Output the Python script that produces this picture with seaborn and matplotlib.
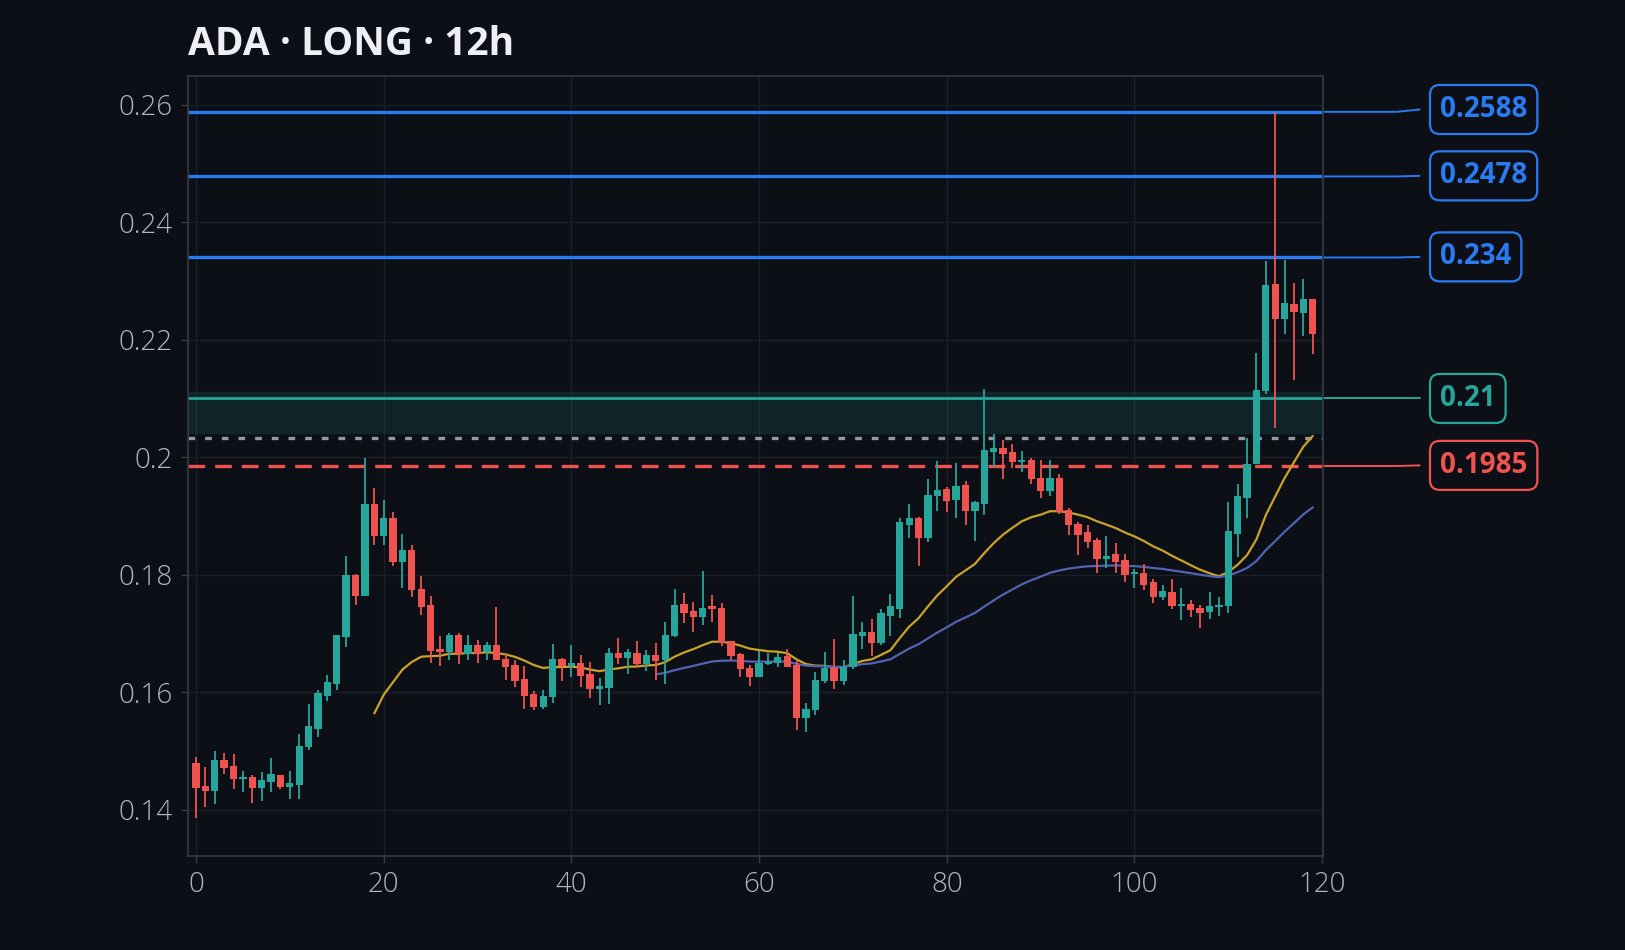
import numpy as np
import pandas as pd
import matplotlib
matplotlib.use("Agg")
import matplotlib.pyplot as plt
import matplotlib.transforms as mtransforms
import seaborn as sns

# OHLC data (12h candles)
opens = [0.1479, 0.1440, 0.1432, 0.1485, 0.1474, 0.1452, 0.1455, 0.1437, 0.1447, 0.1459,
         0.1439, 0.1442, 0.1507, 0.1538, 0.1594, 0.1614, 0.1694, 0.1799, 0.1764, 0.1921,
         0.1866, 0.1896, 0.1822, 0.1842, 0.1775, 0.1748, 0.1673, 0.1669, 0.1697, 0.1665,
         0.1680, 0.1669, 0.1680, 0.1657, 0.1646, 0.1622, 0.1597, 0.1574, 0.1591, 0.1656,
         0.1644, 0.1650, 0.1630, 0.1605, 0.1607, 0.1667, 0.1658, 0.1667, 0.1647, 0.1663,
         0.1654, 0.1696, 0.1750, 0.1738, 0.1728, 0.1746, 0.1743, 0.1687, 0.1665, 0.1641,
         0.1625, 0.1647, 0.1649, 0.1662, 0.1646, 0.1556, 0.1570, 0.1619, 0.1641, 0.1619,
         0.1642, 0.1696, 0.1703, 0.1683, 0.1730, 0.1741, 0.1885, 0.1896, 0.1863, 0.1934,
         0.1946, 0.1927, 0.1952, 0.1909, 0.1920, 0.2009, 0.2015, 0.2009, 0.1992, 0.1995,
         0.1965, 0.1943, 0.1965, 0.1910, 0.1887, 0.1872, 0.1859, 0.1826, 0.1835, 0.1825,
         0.1801, 0.1803, 0.1788, 0.1762, 0.1770, 0.1747, 0.1750, 0.1743, 0.1736, 0.1745,
         0.1747, 0.1869, 0.1931, 0.1989, 0.2113, 0.2294, 0.2235, 0.2260, 0.2246, 0.2270]
highs = [0.1490, 0.1473, 0.1499, 0.1497, 0.1494, 0.1466, 0.1458, 0.1464, 0.1488, 0.1459,
         0.1466, 0.1529, 0.1580, 0.1603, 0.1629, 0.1698, 0.1831, 0.1801, 0.1999, 0.1948,
         0.1927, 0.1907, 0.1870, 0.1850, 0.1797, 0.1763, 0.1695, 0.1701, 0.1701, 0.1697,
         0.1689, 0.1685, 0.1745, 0.1665, 0.1654, 0.1644, 0.1602, 0.1603, 0.1682, 0.1658,
         0.1680, 0.1664, 0.1652, 0.1624, 0.1675, 0.1692, 0.1673, 0.1687, 0.1671, 0.1684,
         0.1719, 0.1775, 0.1769, 0.1753, 0.1807, 0.1765, 0.1752, 0.1687, 0.1667, 0.1646,
         0.1670, 0.1667, 0.1666, 0.1674, 0.1654, 0.1582, 0.1635, 0.1669, 0.1690, 0.1654,
         0.1763, 0.1719, 0.1725, 0.1741, 0.1767, 0.1896, 0.1920, 0.1898, 0.1963, 0.1993,
         0.1950, 0.1990, 0.1959, 0.1925, 0.2116, 0.2039, 0.2030, 0.2022, 0.2011, 0.1998,
         0.1995, 0.1995, 0.1971, 0.1914, 0.1890, 0.1884, 0.1863, 0.1866, 0.1854, 0.1835,
         0.1810, 0.1818, 0.1792, 0.1782, 0.1792, 0.1778, 0.1756, 0.1748, 0.1770, 0.1762,
         0.1923, 0.1954, 0.2032, 0.2178, 0.2334, 0.2588, 0.2336, 0.2296, 0.2304, 0.2270]
lows = [0.1386, 0.1405, 0.1410, 0.1460, 0.1435, 0.1430, 0.1412, 0.1415, 0.1430, 0.1435,
        0.1418, 0.1418, 0.1501, 0.1524, 0.1585, 0.1603, 0.1677, 0.1748, 0.1764, 0.1850,
        0.1850, 0.1814, 0.1778, 0.1762, 0.1731, 0.1650, 0.1644, 0.1655, 0.1648, 0.1655,
        0.1650, 0.1655, 0.1654, 0.1620, 0.1609, 0.1572, 0.1569, 0.1572, 0.1582, 0.1619,
        0.1625, 0.1609, 0.1590, 0.1578, 0.1580, 0.1647, 0.1630, 0.1643, 0.1636, 0.1620,
        0.1613, 0.1693, 0.1718, 0.1702, 0.1714, 0.1719, 0.1678, 0.1654, 0.1626, 0.1610,
        0.1625, 0.1646, 0.1642, 0.1642, 0.1535, 0.1532, 0.1561, 0.1615, 0.1605, 0.1612,
        0.1640, 0.1674, 0.1661, 0.1680, 0.1696, 0.1727, 0.1863, 0.1815, 0.1856, 0.1909,
        0.1907, 0.1897, 0.1884, 0.1858, 0.1902, 0.1984, 0.1963, 0.1982, 0.1975, 0.1954,
        0.1931, 0.1934, 0.1904, 0.1868, 0.1834, 0.1846, 0.1803, 0.1812, 0.1802, 0.1788,
        0.1778, 0.1774, 0.1752, 0.1757, 0.1742, 0.1722, 0.1728, 0.1709, 0.1725, 0.1729,
        0.1735, 0.1830, 0.1897, 0.1989, 0.2107, 0.2049, 0.2209, 0.2132, 0.2206, 0.2175]
closes = [0.1437, 0.1432, 0.1485, 0.1471, 0.1452, 0.1455, 0.1437, 0.1450, 0.1460, 0.1439,
          0.1445, 0.1508, 0.1542, 0.1598, 0.1617, 0.1697, 0.1799, 0.1764, 0.1921, 0.1866,
          0.1896, 0.1822, 0.1842, 0.1774, 0.1745, 0.1670, 0.1669, 0.1697, 0.1665, 0.1680,
          0.1665, 0.1680, 0.1654, 0.1643, 0.1619, 0.1594, 0.1574, 0.1594, 0.1656, 0.1644,
          0.1650, 0.1627, 0.1605, 0.1610, 0.1667, 0.1658, 0.1669, 0.1647, 0.1663, 0.1653,
          0.1698, 0.1748, 0.1735, 0.1728, 0.1744, 0.1742, 0.1684, 0.1662, 0.1639, 0.1625,
          0.1649, 0.1650, 0.1660, 0.1643, 0.1556, 0.1572, 0.1620, 0.1641, 0.1619, 0.1643,
          0.1699, 0.1703, 0.1683, 0.1735, 0.1746, 0.1890, 0.1896, 0.1863, 0.1936, 0.1944,
          0.1926, 0.1951, 0.1909, 0.1923, 0.2012, 0.2015, 0.2005, 0.1992, 0.1995, 0.1963,
          0.1943, 0.1965, 0.1907, 0.1885, 0.1868, 0.1856, 0.1826, 0.1832, 0.1822, 0.1799,
          0.1803, 0.1783, 0.1762, 0.1772, 0.1747, 0.1750, 0.1739, 0.1735, 0.1746, 0.1748,
          0.1874, 0.1934, 0.1989, 0.2115, 0.2293, 0.2236, 0.2262, 0.2247, 0.2269, 0.2209]

# trade levels
tp_levels = [0.2588, 0.2478, 0.234]
entry_level = 0.21
zone_low, zone_high = 0.2040, 0.2111
last_price = 0.2033
stop_level = 0.1985

BG = "#0c0f16"
GRID = "#1b1f2a"
SPINE = "#363a45"
TXT = "#b2b5be"
GREEN = "#26a69a"
RED = "#ef5350"
BLUE = "#2a7bf2"
GOLD = "#c9a227"
MA_BLUE = "#5262b2"

sns.set_theme(style="dark", rc={
    "figure.facecolor": BG,
    "axes.facecolor": BG,
    "axes.edgecolor": SPINE,
    "grid.color": GRID,
    "xtick.color": TXT,
    "ytick.color": TXT,
})
plt.rcParams["font.family"] = ["Open Sans", "DejaVu Sans"]


def ema(series, n):
    # EMA seeded with the first n-bar simple average
    vals = series.copy()
    vals.iloc[:n - 1] = np.nan
    vals.iloc[n - 1] = series.iloc[:n].mean()
    return vals.ewm(span=n, adjust=False).mean()


df = pd.DataFrame({"open": opens, "high": highs, "low": lows, "close": closes})
df["idx"] = np.arange(len(df))
df["ema20"] = ema(df["close"], 20)
df["ema50"] = ema(df["close"], 50)
up = df["close"] >= df["open"]
colors = np.where(up, GREEN, RED)

fig = plt.figure(figsize=(16.25, 9.5), dpi=100)
ax = fig.add_axes([0.1157, 0.099, 0.6985, 0.821])

# zone and levels
ax.axhspan(zone_low, zone_high, facecolor=GREEN, alpha=0.14, edgecolor="#1d4a46", lw=1.2, zorder=1)
for lv in tp_levels:
    ax.axhline(lv, color=BLUE, lw=2.4, zorder=2)
ax.axhline(entry_level, color=GREEN, lw=2.0, zorder=2)
ax.axhline(last_price, color="#9598a1", lw=2.4, dashes=(2.0, 3.0), zorder=2)
ax.axhline(stop_level, color=RED, lw=2.4, dashes=(5, 3), zorder=2)

# moving averages
sns.lineplot(data=df, x="idx", y="ema20", color=GOLD, lw=1.6, ax=ax, zorder=3)
sns.lineplot(data=df, x="idx", y="ema50", color=MA_BLUE, lw=1.6, ax=ax, zorder=3)

# candles
ax.vlines(df["idx"], df["low"], df["high"], colors=colors, lw=1.3, zorder=4)
body_lo = np.minimum(df["open"], df["close"])
body_h = np.maximum(np.abs(df["close"] - df["open"]), 0.00035)
ax.bar(df["idx"], body_h, bottom=body_lo, width=0.78, color=colors, lw=0, zorder=5)

ax.set_xlim(-0.85, 120.1)
ax.set_ylim(0.1321, 0.2649)
ax.set_xticks(range(0, 121, 20))
yt = np.round(np.arange(0.14, 0.261, 0.02), 2)
ax.set_yticks(yt)
ax.set_yticklabels([f"{v:g}" for v in yt])
ax.tick_params(axis="both", labelsize=20, length=5, width=1, color=SPINE, pad=6, bottom=True, left=True)
for lab in ax.get_xticklabels() + ax.get_yticklabels():
    lab.set_fontweight("light")
ax.grid(True, color=GRID, lw=1)
ax.set_xlabel("")
ax.set_ylabel("")
for s in ax.spines.values():
    s.set_color(SPINE)
    s.set_linewidth(1.2)

# right-hand labels
trans = mtransforms.blended_transform_factory(ax.transAxes, ax.transData)
labels = [(0.2588, 0.2592, "0.2588", BLUE), (0.2478, 0.2479, "0.2478", BLUE),
          (0.234, 0.2341, "0.234", BLUE), (0.21, 0.21, "0.21", GREEN),
          (0.1985, 0.1986, "0.1985", RED)]
for lv, ly, txt, col in labels:
    ax.plot([1.0, 1.065, 1.085], [lv, lv, ly], color=col, lw=1.4, transform=trans, clip_on=False)
    ax.text(1.103, ly, txt, transform=trans, ha="left", va="center", fontsize=20,
            fontweight="bold", color=col,
            bbox=dict(boxstyle="round,pad=0.36,rounding_size=0.35", fc=BG, ec=col, lw=1.6))

fig.text(0.1157, 0.953, "ADA · LONG · 12h", fontsize=28, fontweight="bold", color="#eef0f5",
         ha="left", va="center")

fig.savefig("out.png", dpi=100, facecolor=BG)
